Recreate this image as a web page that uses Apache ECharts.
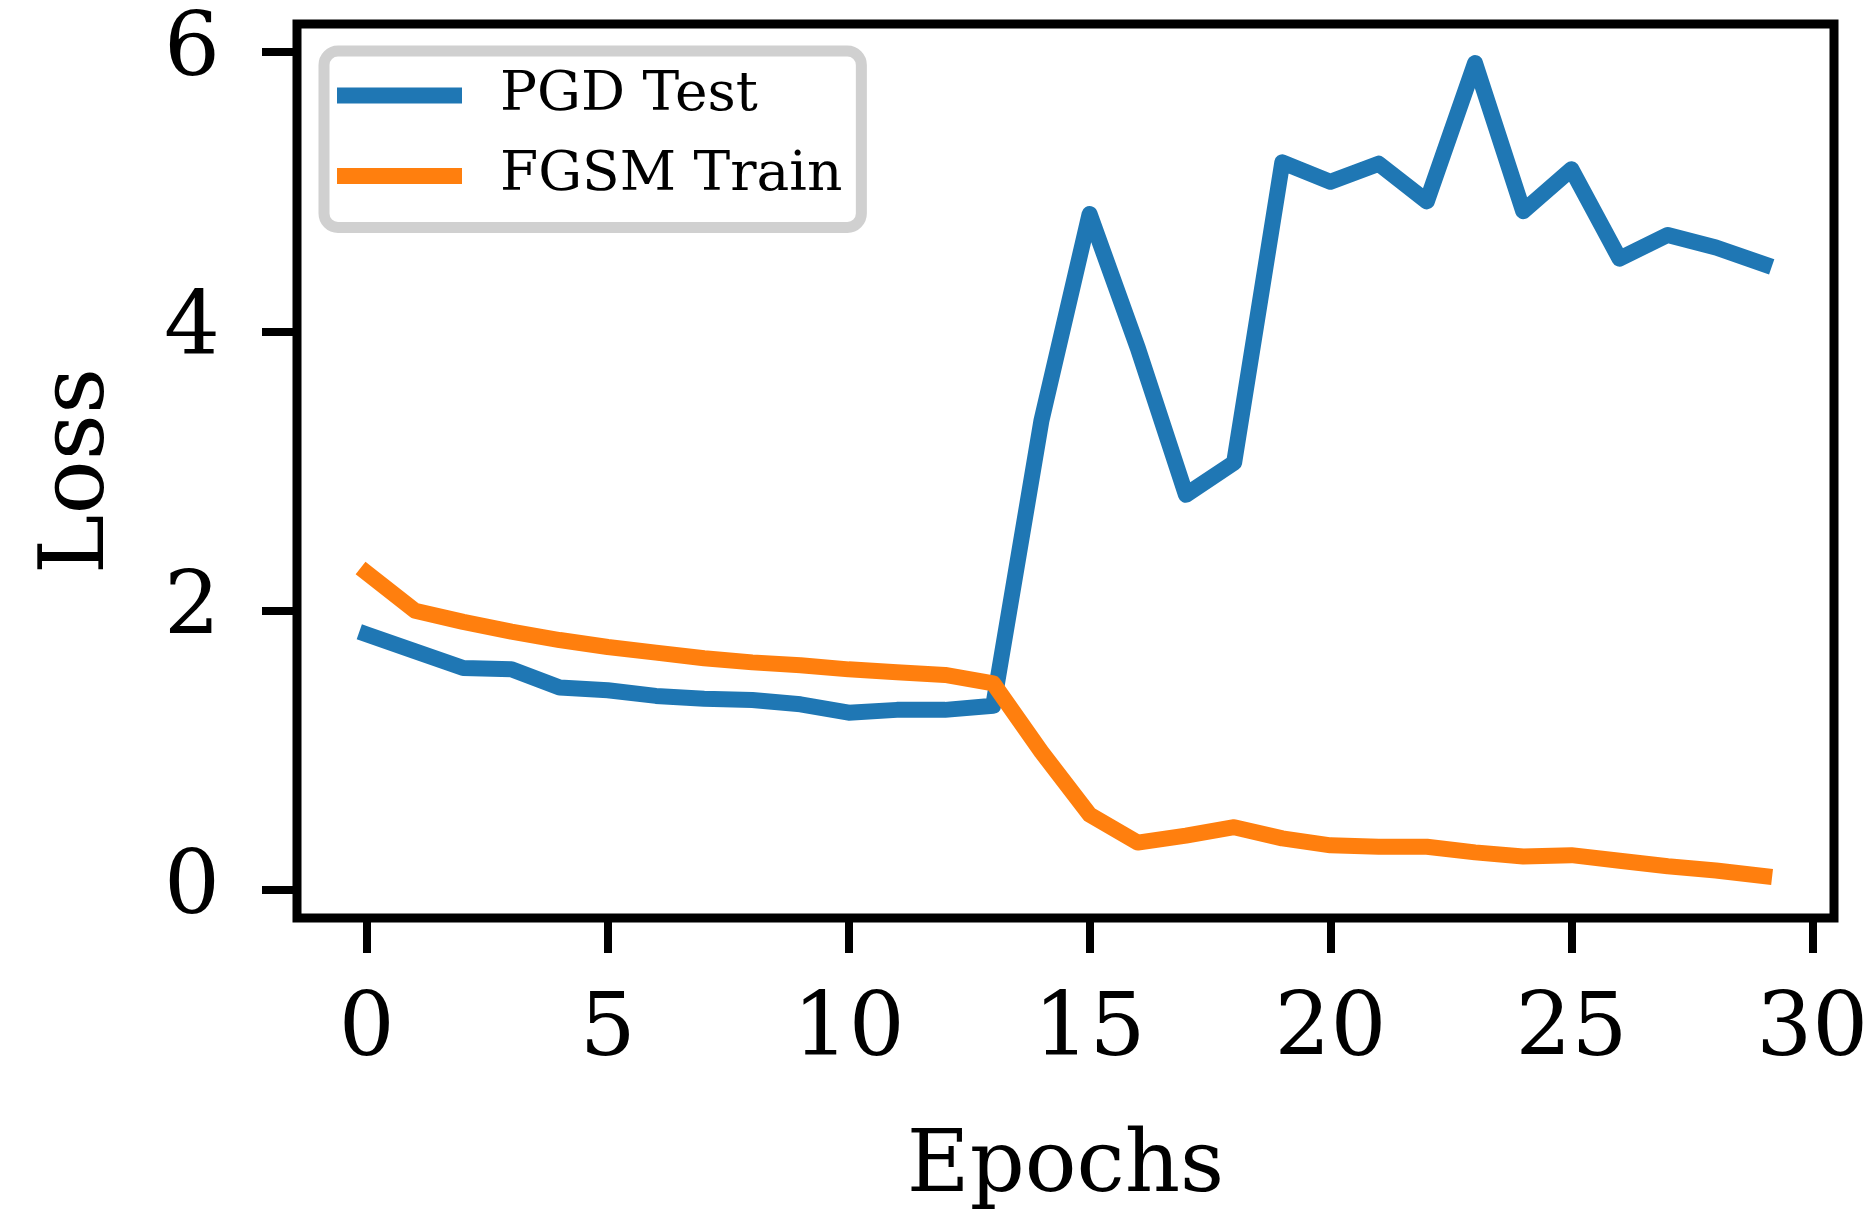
<!DOCTYPE html>
<html><head><meta charset="utf-8">
<script src="https://cdn.jsdelivr.net/npm/echarts@6/dist/echarts.min.js"></script>
<style>html,body{margin:0;padding:0;background:#fff}#c{width:1876px;height:1217px}</style>
</head><body><div id="c"></div>
<script>
const epochs = [0,1,2,3,4,5,6,7,8,9,10,11,12,13,14,15,16,17,18,19,20,21,22,23,24,25,26,27,28,29];
const pgdTest = [1.83,1.71,1.59,1.58,1.45,1.43,1.39,1.37,1.36,1.33,1.27,1.29,1.29,1.32,3.36,4.84,3.88,2.83,3.06,5.21,5.07,5.20,4.93,5.92,4.86,5.16,4.52,4.69,4.60,4.48];
const fgsmTrain = [2.27,2.00,1.92,1.85,1.79,1.74,1.70,1.66,1.63,1.61,1.58,1.56,1.54,1.48,0.99,0.54,0.34,0.39,0.45,0.37,0.32,0.31,0.31,0.27,0.24,0.25,0.21,0.17,0.14,0.10];
const xTicks = [0,5,10,15,20,25,30];
const yTicks = [0,2,4,6];
const seriesNames = ['PGD Test','FGSM Train'];

const FONT = 'DejaVu Serif';
const chart = echarts.init(document.getElementById('c'), null, {renderer:'canvas'});
chart.setOption({
  animation:false,
  backgroundColor:'#fff',
  grid:{left:297, top:24, width:1537, height:897, show:true, borderColor:'#000', borderWidth:9, backgroundColor:'transparent'},
  legend:{
    orient:'vertical', left:324, top:51,
    padding:[14.5,19,21.5,13], itemGap:20.5,
    itemWidth:125, itemHeight:16, icon:'rect',
    backgroundColor:'rgba(255,255,255,0.8)',
    borderColor:'#d0d0d0', borderWidth:11, borderRadius:14,
    textStyle:{fontFamily:FONT, fontSize:55, color:'#000', lineHeight:60, padding:[0,0,0,33]},
    data:seriesNames
  },
  xAxis:{
    type:'value', min:-1.45, max:30.45,
    axisLine:{show:false, onZero:false},
    axisTick:{show:true, inside:false, length:35, customValues:xTicks, lineStyle:{color:'#000', width:8}},
    axisLabel:{show:true, customValues:xTicks, margin:70, fontFamily:FONT, fontSize:88, color:'#000'},
    splitLine:{show:false},
    name:'Epochs', nameLocation:'middle', nameGap:208,
    nameTextStyle:{fontFamily:FONT, fontSize:86, color:'#000'}
  },
  yAxis:{
    type:'value', min:-0.2, max:6.2,
    axisLine:{show:false, onZero:false},
    axisTick:{show:true, inside:false, length:35, customValues:yTicks, lineStyle:{color:'#000', width:8}},
    axisLabel:{show:true, customValues:yTicks, margin:77, fontFamily:FONT, fontSize:88, color:'#000'},
    splitLine:{show:false},
    name:'Loss', nameLocation:'middle', nameRotate:90, nameGap:172,
    nameTextStyle:{fontFamily:FONT, fontSize:90, color:'#000'}
  },
  series:[
    {name:seriesNames[0], type:'line', symbol:'none', showSymbol:false, color:'#1f77b4',
     lineStyle:{width:16, color:'#1f77b4', cap:'square', join:'round'},
     data:epochs.map((e,i)=>[e,pgdTest[i]])},
    {name:seriesNames[1], type:'line', symbol:'none', showSymbol:false, color:'#ff7f0e',
     lineStyle:{width:16, color:'#ff7f0e', cap:'square', join:'round'},
     data:epochs.map((e,i)=>[e,fgsmTrain[i]])}
  ]
});
</script></body></html>
